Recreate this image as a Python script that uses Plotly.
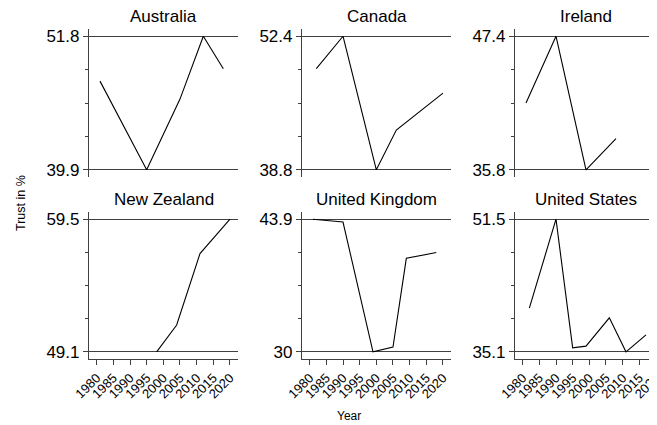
import plotly.graph_objects as go

# ---- data ----
countries = ["Australia", "Canada", "Ireland", "New Zealand", "United Kingdom", "United States"]

aus_years = [1981, 1995, 2005, 2012, 2018]
aus_trust = [47.8, 39.9, 46.2, 51.8, 48.9]

can_years = [1982, 1990, 2000, 2006, 2020]
can_trust = [49.1, 52.4, 38.8, 42.85, 46.6]

irl_years = [1981, 1990, 1999, 2008]
irl_trust = [41.6, 47.4, 35.8, 38.5]

nzl_years = [1998, 2004, 2011, 2020]
nzl_trust = [49.1, 51.2, 56.8, 59.5]

gbr_years = [1981, 1990, 1999, 2005, 2009, 2018]
gbr_trust = [43.9, 43.6, 30.0, 30.5, 39.8, 40.4]

usa_years = [1982, 1990, 1995, 1999, 2006, 2011, 2017]
usa_trust = [40.5, 51.5, 35.6, 35.8, 39.3, 35.1, 37.2]

y_min_labels = ["39.9", "38.8", "35.8", "49.1", "30", "35.1"]
y_max_labels = ["51.8", "52.4", "47.4", "59.5", "43.9", "51.5"]

x_tick_years = [1980, 1985, 1990, 1995, 2000, 2005, 2010, 2015, 2020]

series_years = [aus_years, can_years, irl_years, nzl_years, gbr_years, usa_years]
series_trust = [aus_trust, can_trust, irl_trust, nzl_trust, gbr_trust, usa_trust]

# ---- layout geometry (page pixels; the page body has an 8px margin) ----
OFF = 8
W, H = 657 - OFF, 425 - OFF
FONT = "Liberation Sans, Arial, sans-serif"
col_px = [(89, 238.3), (302, 451.3), (515, 657)]
row_px = [(29, 177), (212, 359)]  # top, bottom in page pixels
px_per_year = 3.333
x_left = 1977.7


def fx(px):
    return (px - OFF) / W


def fy(py):
    return (H - (py - OFF)) / H


fig = go.Figure()
AX = "#404040"

for i in range(6):
    r, c = divmod(i, 3)
    n = "" if i == 0 else str(i + 1)
    yrs, vals = series_years[i], series_trust[i]
    fig.add_trace(go.Scatter(x=yrs, y=vals, mode="lines",
                             line=dict(color="black", width=1.1),
                             xaxis="x" + n, yaxis="y" + n, showlegend=False,
                             hoverinfo="x+y"))
    x0, x1 = col_px[c]
    t, b = row_px[r]
    vmin, vmax = float(y_min_labels[i]), float(y_max_labels[i])
    span = vmax - vmin
    pad = 7.2 / 133.0 * span
    minor_vals = [vmin + span * k / 4 for k in (1, 2, 3)]
    x_right = x_left + (x1 - x0) / px_per_year
    bottom = (r == 1)
    fig.layout["xaxis" + n] = dict(
        domain=[fx(x0), min(1.0, fx(x1))], anchor="y" + n, range=[x_left, x_right],
        automargin=False, ticklabeloverflow="allow",
        showgrid=False, zeroline=False,
        showline=bottom, linecolor=AX, linewidth=1.2,
        ticks="outside" if bottom else "", ticklen=5, tickcolor=AX, tickwidth=1.1,
        tickmode="array", tickvals=x_tick_years,
        ticktext=[str(y) for y in x_tick_years],
        showticklabels=bottom, tickangle=-45,
        tickfont=dict(family=FONT, size=13, color="black"),
    )
    fig.layout["yaxis" + n] = dict(
        domain=[fy(b), fy(t)], anchor="x" + n,
        range=[vmin - pad, vmax + pad],
        automargin=False,
        showline=True, linecolor=AX, linewidth=1.2, zeroline=False,
        showgrid=True, gridcolor=AX, gridwidth=1.2,
        ticks="outside", ticklen=5, tickcolor=AX, tickwidth=1.1,
        tickmode="array", tickvals=[vmin, vmax],
        ticktext=[y_min_labels[i], y_max_labels[i]],
        tickfont=dict(family=FONT, size=17, color="black"),
        minor=dict(tickmode="array", tickvals=minor_vals, ticks="outside",
                   ticklen=3, tickcolor=AX, tickwidth=1, showgrid=False),
    )
    fig.add_annotation(text=countries[i], xref="paper", yref="paper",
                       x=fx((x0 + min(x1, 664)) / 2), y=fy(t - 1),
                       xanchor="center", yanchor="bottom", showarrow=False,
                       font=dict(family=FONT, size=17, color="black"))

fig.add_annotation(text="Trust in %", xref="paper", yref="paper",
                   x=fx(21), y=fy(203), textangle=-90,
                   xanchor="center", yanchor="middle", showarrow=False,
                   font=dict(family=FONT, size=12.5, color="black"))
fig.add_annotation(text="Year", xref="paper", yref="paper",
                   x=fx(349), y=fy(416),
                   xanchor="center", yanchor="middle", showarrow=False,
                   font=dict(family=FONT, size=12, color="black"))

fig.update_layout(width=W, height=H, margin=dict(l=0, r=0, t=0, b=0, autoexpand=False),
                  paper_bgcolor="white", plot_bgcolor="white",
                  font=dict(family=FONT, color="black"))

fig.write_html("out.html")
